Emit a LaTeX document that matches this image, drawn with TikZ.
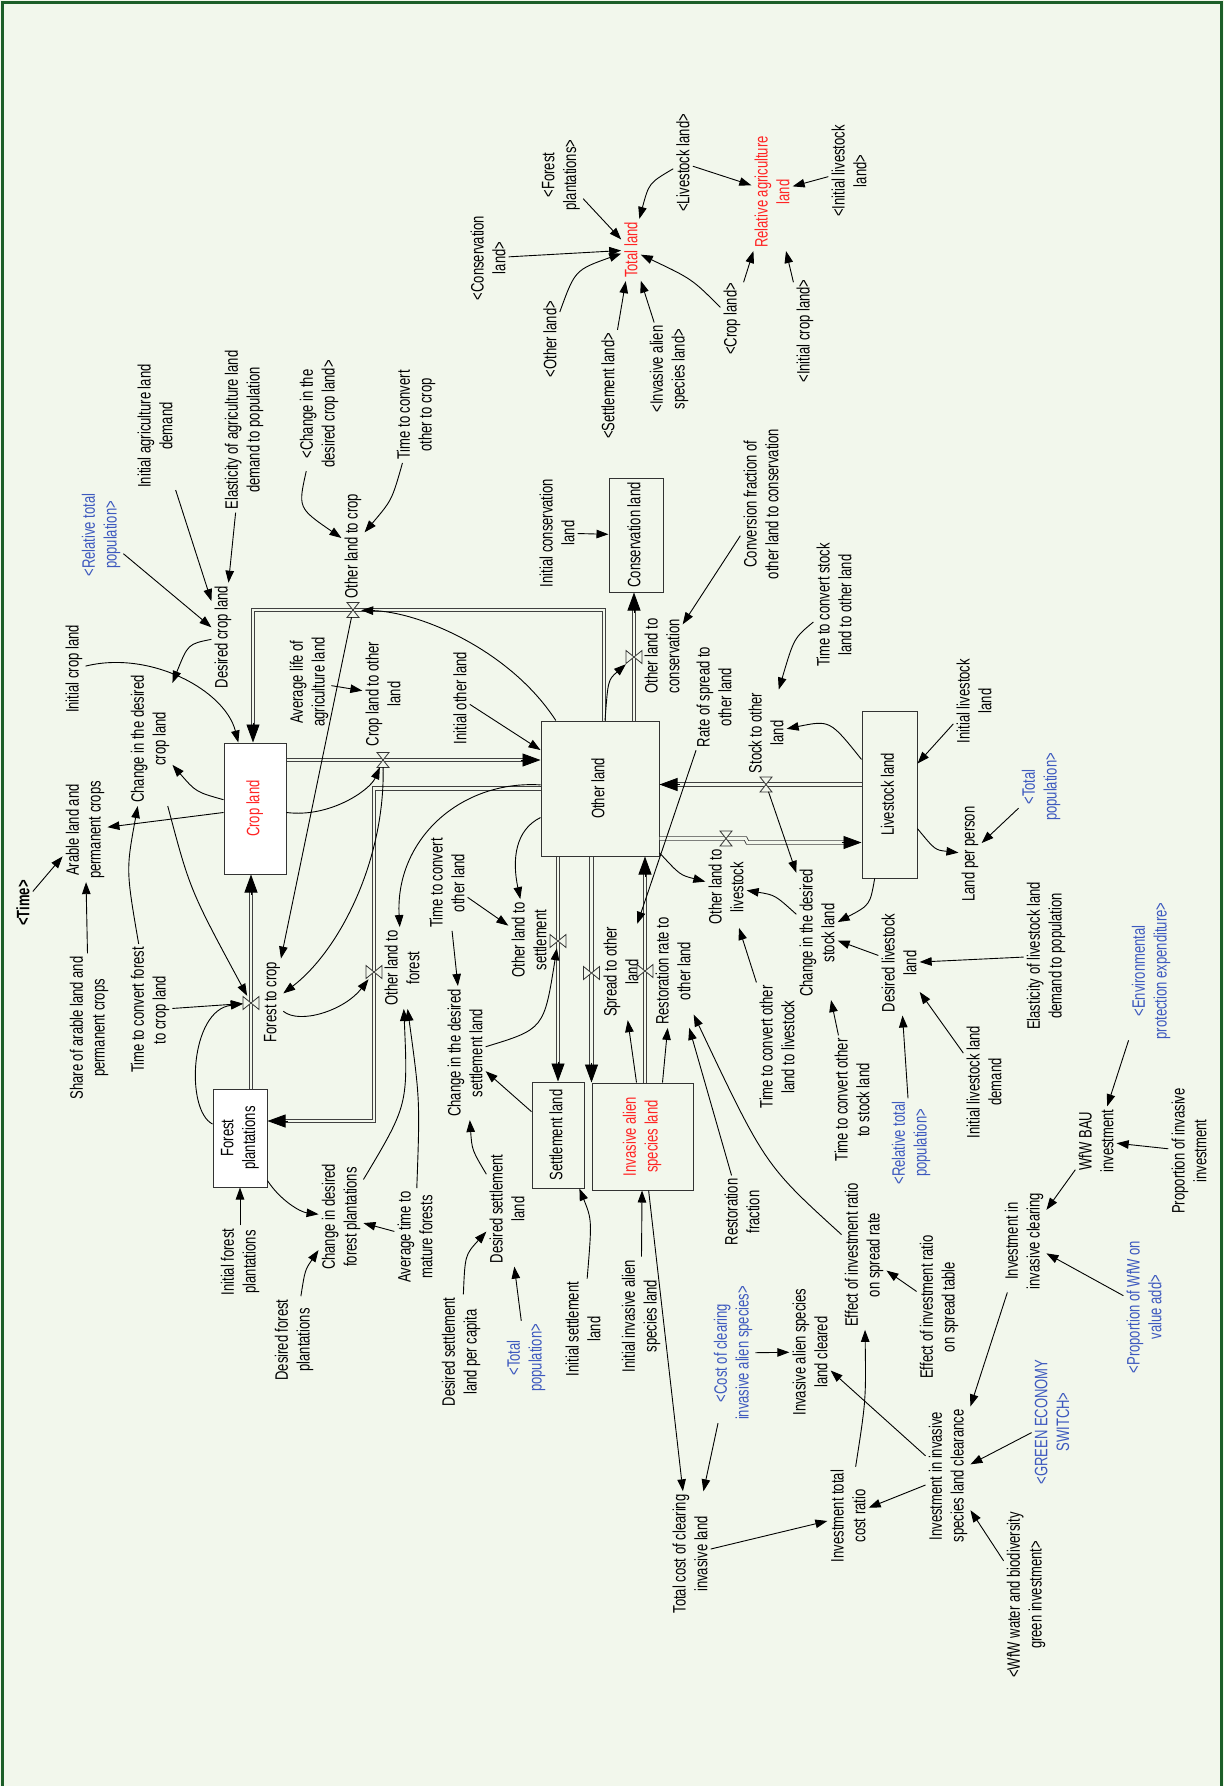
\documentclass[tikz,border=0pt]{standalone}
\usepackage{fontspec}
\setmainfont[FakeStretch=0.725]{Liberation Sans}
\usepackage{graphicx}
\usetikzlibrary{arrows.meta,calc}
\definecolor{bg}{RGB}{242,247,236}
\definecolor{framegreen}{RGB}{28,94,40}
\definecolor{rd}{RGB}{255,35,35}
\definecolor{bl}{RGB}{60,88,190}
\newcommand\lblfont{\fontsize{18}{21.7}\selectfont}
\newcommand\boxtxt[1]{\rotatebox{90}{\begin{tabular}{@{}c@{}}#1\end{tabular}}}
\newcommand\drawvvalve[1]{\filldraw[vline] ([shift={(-8pt,6.5pt)}]#1.center) -- ([shift={(-8pt,-6.5pt)}]#1.center) -- ([shift={(8pt,6.5pt)}]#1.center) -- ([shift={(8pt,-6.5pt)}]#1.center) -- cycle;}
\newcommand\drawhvalve[1]{\filldraw[vline] ([shift={(-6pt,7.5pt)}]#1.center) -- ([shift={(6pt,7.5pt)}]#1.center) -- ([shift={(-6pt,-7.5pt)}]#1.center) -- ([shift={(6pt,-7.5pt)}]#1.center) -- cycle;}
\tikzset{
  lbl/.style={rotate=90, align=center, inner sep=3pt, font=\lblfont},
  stock/.style={draw=black!80, line width=1pt, inner sep=0pt, font=\lblfont},
  info/.style={draw=black, line width=0.9pt, -{Triangle[length=12pt,width=8.5pt]}},
  pipe/.style={draw=black!75, double=bg, double distance=2.6pt, line width=0.9pt},
  ptip/.style={draw=black, line width=0.8pt, -{Triangle[length=18pt,width=13pt]}},
  vnode/.style={inner sep=0pt, minimum width=16pt, minimum height=14pt},
  vline/.style={draw=black!80, fill=bg, line width=0.8pt}
}
\begin{document}
\begin{tikzpicture}[x=1pt,y=-1pt]
\useasboundingbox (0,0) rectangle (1224,1786);
\fill[bg] (0,0) rectangle (1224,1786);
\draw[framegreen, line width=2.5pt] (2.5,2.5) rectangle (1221.5,1792);

% ---------- stocks ----------
\node[stock, fill=white, text=rd, minimum width=62pt, minimum height=131pt] (crop) at (255,808.5) {\boxtxt{Crop land}};
\node[stock, fill=white, minimum width=54pt, minimum height=98pt] (forest) at (240,1138) {\boxtxt{Forest\\plantations}};
\node[stock, fill=bg, minimum width=118pt, minimum height=135pt] (other) at (600,788.5) {\boxtxt{Other land}};
\node[stock, fill=bg, minimum width=54pt, minimum height=114pt] (cons) at (636,535) {\boxtxt{Conservation land}};
\node[stock, fill=bg, minimum width=52pt, minimum height=106pt] (settle) at (558,1135) {\boxtxt{Settlement land}};
\node[stock, fill=bg, text=rd, minimum width=101pt, minimum height=107pt] (inv) at (642.5,1136.5) {\boxtxt{Invasive alien\\species land}};
\node[stock, fill=bg, minimum width=55pt, minimum height=167pt] (live) at (889.5,794.5) {\boxtxt{Livestock land}};

% ---------- valves (nodes) ----------
\node[vnode] (v_olc) at (353,610) {};
\node[vnode] (v_clol) at (383,760) {};
\node[vnode] (v_olf) at (374,972) {};
\node[vnode] (v_fc) at (251,1003) {};
\node[vnode] (v_olcons) at (634,657) {};
\node[vnode] (v_olset) at (558,941) {};
\node[vnode] (v_sol) at (591.5,973) {};
\node[vnode] (v_rrol) at (645,971) {};
\node[vnode] (v_stol) at (766,784.5) {};
\node[vnode] (v_olliv) at (726,838.5) {};

% ---------- top cluster ----------
\node[lbl, text=rd] (tl) at (631,250) {Total land};
\node[lbl, text=rd] (ral) at (772,192) {Relative agriculture\\land};
\node[lbl] (sCons) at (488,258) {<Conservation\\land>};
\node[lbl] (sForest) at (561,175) {<Forest\\plantations>};
\node[lbl] (sLive) at (683,163) {<Livestock land>};
\node[lbl] (sOther) at (550,339) {<Other land>};
\node[lbl] (sSettle) at (608,386) {<Settlement land>};
\node[lbl] (sInv) at (669,369) {<Invasive alien\\species land>};
\node[lbl] (sCrop) at (732,319) {<Crop land>};
\node[lbl] (sInitCrop) at (805,331) {<Initial crop land>};
\node[lbl] (sInitLive) at (849,171) {<Initial livestock\\land>};

% ---------- crop area ----------
\node[lbl] (iald) at (155,426) {Initial agriculture land\\demand};
\node[lbl] (eald) at (244,430) {Elasticity of agriculture land\\demand to population};
\node[lbl] (cdclS) at (319,414) {<Change in the\\desired crop land>};
\node[lbl] (tcoc) at (416,415) {Time to convert\\other to crop};
\node[lbl, text=bl] (rtp1) at (101,535) {<Relative total\\population>};
\node[lbl] (dcl) at (223,637) {Desired crop land};
\node[lbl] (icl) at (74,669) {Initial crop land};
\node[lbl] (cdcl) at (150,739) {Change in the desired\\crop land};
\node[lbl] (arable) at (85,830) {Arable land and\\permanent crops};
\node[lbl, font=\lblfont\bfseries] (time) at (23,903) {<Time>};
\node[lbl] (alal) at (309,682) {Average life of\\agriculture land};
\node[lbl] (clol) at (383,694) {Crop land to other\\land};
\node[lbl] (olc) at (353,546) {Other land to crop};

% ---------- middle ----------
\node[lbl] (icons) at (557,533) {Initial conservation\\land};
\node[lbl] (cfoc) at (761,504) {Conversion fraction of\\other land to conservation};
\node[lbl] (olcons) at (662,656) {Other land to\\conservation};
\node[lbl] (iol) at (460,698) {Initial other land};
\node[lbl] (rsol) at (714,697) {Rate of spread to\\other land};
\node[lbl] (stol) at (766,733) {Stock to other\\land};
\node[lbl] (tcsol) at (834,605) {Time to convert stock\\land to other land};
\node[lbl] (ill) at (974,701) {Initial livestock\\land};
\node[lbl, text=bl] (tp1) at (1041,787) {<Total\\population>};
\node[lbl] (lpp) at (970,854) {Land per person};

% ---------- livestock / investment ----------
\node[lbl] (cdsl) at (817,933) {Change in the desired\\stock land};
\node[lbl] (dll) at (899,963) {Desired livestock\\land};
\node[lbl] (elld) at (1046,956) {Elasticity of livestock land\\demand to population};
\node[lbl] (illd) at (984,1082) {Initial livestock land\\demand};
\node[lbl, text=bl] (rtp2) at (911,1143) {<Relative total\\population>};
\node[lbl] (tcosl) at (852,1100) {Time to convert other\\to stock land};
\node[lbl, text=bl] (epe) at (1151,971) {<Environmental\\protection expenditure>};
\node[lbl] (wfwbau) at (1096,1141) {WfW BAU\\investment};
\node[lbl] (pii) at (1189,1151) {Proportion of invasive\\investment};
\node[lbl] (iic) at (1024,1241) {Investment in\\invasive clearing};
\node[lbl, text=bl] (pwfw) at (1144,1307) {<Proportion of WfW on\\value add>};
\node[lbl] (eir) at (864,1255) {Effect of investment ratio\\on spread rate};
\node[lbl] (eirt) at (939,1307) {Effect of investment ratio\\on spread table};
\node[lbl] (iisl) at (948,1476) {Investment in invasive\\species land clearance};
\node[lbl, text=bl] (ges) at (1052,1422) {<GREEN ECONOMY\\SWITCH>};
\node[lbl] (wfwgi) at (1026,1595) {<WfW water and biodiversity\\green investment>};
\node[lbl] (itcr) at (848,1516) {Investment total\\cost ratio};
\node[lbl] (iaslc) at (810,1352) {Invasive alien species\\land cleared};
\node[lbl] (tcci) at (690,1554) {Total cost of clearing\\invasive land};
\node[lbl, text=bl] (ccias) at (733,1353) {<Cost of clearing\\invasive alien species>};
\node[lbl] (iias) at (641,1316) {Initial invasive alien\\species land};
\node[lbl] (isl) at (583,1329) {Initial settlement\\land};
\node[lbl, text=bl] (tp2) at (526,1358) {<Total\\population>};
\node[lbl] (dslpc) at (461,1352) {Desired settlement\\land per capita};
\node[lbl] (dsl) at (507,1209) {Desired settlement\\land};
\node[lbl] (cdsetl) at (465,1053) {Change in the desired\\settlement land};
\node[lbl] (olset) at (529,940) {Other land to\\settlement};
\node[lbl] (sol) at (621,972) {Spread to other\\land};
\node[lbl] (rrol) at (673,971) {Restoration rate to\\other land};
\node[lbl] (rf) at (742,1212) {Restoration\\fraction};
\node[lbl] (tcoll) at (777,1047) {Time to convert other\\land to livestock};
\node[lbl] (olliv) at (726,887) {Other land to\\livestock};
\node[lbl] (tcol) at (447,883) {Time to convert\\other land};

% ---------- forest area ----------
\node[lbl] (sal) at (89,1028) {Share of arable land and\\permanent crops};
\node[lbl] (tcfc) at (150,1010) {Time to convert forest\\to crop land};
\node[lbl] (fc) at (272,1002) {Forest to crop};
\node[lbl] (ifp) at (240,1262) {Initial forest\\plantations};
\node[lbl] (cdfp) at (341,1217) {Change in desired\\forest plantations};
\node[lbl] (dfp) at (294,1340) {Desired forest\\plantations};
\node[lbl] (atmf) at (415,1237) {Average time to\\mature forests};
\node[lbl] (olf) at (402,968) {Other land to\\forest};

% ---------- pipe end points ----------
\coordinate (p1s) at ([xshift=4pt]other.north);
\coordinate (p1e) at ([xshift=-2pt]crop.north);
\coordinate (p2s) at (crop.east |- v_clol.center);
\coordinate (p2e) at (other.west |- v_clol.center);
\coordinate (p3e) at ([yshift=17pt]forest.east);
\coordinate (p4s) at ([xshift=11pt]forest.north);
\coordinate (p4e) at ([xshift=-4pt]crop.south);
\coordinate (p5s) at ([xshift=34pt]other.north);
\coordinate (p5e) at ([xshift=-2pt]cons.south);
\coordinate (p6s) at ([xshift=-42pt]other.south);
\coordinate (p7s) at ([xshift=-8.5pt]other.south);
\coordinate (p7e) at ([xshift=-51pt]inv.north);
\coordinate (p8s) at ([xshift=2.5pt]inv.north);
\coordinate (p8e) at ([xshift=45pt]other.south);
\coordinate (p9s) at ([yshift=10pt]live.west);
\coordinate (p9e) at ([yshift=4pt]other.east);
\coordinate (p10s) at ([yshift=-50pt]other.east);
\coordinate (p10e) at ([yshift=-48pt]live.west);

% ---------- pipes ----------
\draw[pipe, shorten >=14pt] (p1s) |- (v_olc.center) -| (p1e);
\draw[ptip] ($(p1e)+(0,-20)$) -- (p1e);
\draw[pipe, shorten >=14pt] (p2s) -- (p2e);
\draw[ptip] ($(p2e)+(-20,0)$) -- (p2e);
\draw[pipe, shorten >=14pt] (other.west) -| (v_olf.center) |- (p3e);
\draw[ptip] ($(p3e)+(20,0)$) -- (p3e);
\draw[pipe, shorten >=14pt] (p4s) -- (p4e);
\draw[ptip] ($(p4e)+(0,20)$) -- (p4e);
\draw[pipe, shorten >=14pt] (p5s) -- (p5e);
\draw[ptip] ($(p5e)+(0,20)$) -- (p5e);
\draw[pipe, shorten >=14pt] (p6s) -- (settle.north);
\draw[ptip] ($(settle.north)+(0,-20)$) -- (settle.north);
\draw[pipe, shorten >=14pt] (p7s) -- (p7e);
\draw[ptip] ($(p7e)+(0,-20)$) -- (p7e);
\draw[pipe, shorten >=14pt] (p8s) -- (p8e);
\draw[ptip] ($(p8e)+(0,20)$) -- (p8e);
\draw[pipe, shorten >=14pt] (p9s) -- (p9e);
\draw[ptip] ($(p9e)+(20,0)$) -- (p9e);
\draw[pipe, shorten >=14pt] (p10s) -- ++(86,0) -- ++(2,4) -- (p10e);
\draw[ptip] ($(p10e)+(-20,0)$) -- (p10e);

% ---------- valve shapes ----------
\drawhvalve{v_olc}
\drawhvalve{v_clol}
\drawvvalve{v_olf}
\drawvvalve{v_fc}
\drawvvalve{v_olcons}
\drawvvalve{v_olset}
\drawvvalve{v_sol}
\drawvvalve{v_rrol}
\drawhvalve{v_stol}
\drawhvalve{v_olliv}

% ---------- information links ----------
\draw[info] (sCons) -- (tl);
\draw[info] (sForest) -- (tl);
\draw[info] (sLive) .. controls (649,183) .. (tl);
\draw[info] (sLive) -- (ral);
\draw[info] (sInitLive) -- (ral);
\draw[info] (sOther) .. controls (575,270) .. (tl);
\draw[info] (sSettle) -- (tl);
\draw[info] (sInv) -- (tl);
\draw[info] (sCrop) .. controls (692,279) .. (tl);
\draw[info] (sCrop) -- (ral);
\draw[info] (sInitCrop) -- (ral);

\draw[info] (rtp1) -- (dcl);
\draw[info] (iald) -- (dcl);
\draw[info] (eald) -- (dcl);
\draw[info] (cdclS) .. controls (298,508) .. (olc);
\draw[info] (tcoc) .. controls (392,500) .. (olc);
\draw[info] (dcl) .. controls (188,644) .. (cdcl);
\draw[info] (icl) .. controls (150,650) and (225,690) .. (crop);
\draw[info] (crop) .. controls (196,792) .. (cdcl);
\draw[info] (crop) -- (arable);
\draw[info] (time) -- (arable);
\draw[info] (sal) -- (arable);
\draw[info] (tcfc) .. controls (126,870) .. (cdcl);
\draw[info] (cdcl) .. controls (190,890) .. (v_fc);
\draw[info] (tcfc) -- (v_fc);
\draw[info] (forest) .. controls (185,1110) and (190,1010) .. (v_fc);
\draw[info] (v_olc) -- (fc);
\draw[info] (v_clol) .. controls (385,860) and (340,950) .. (fc);
\draw[info] (crop) .. controls (330,818) and (370,790) .. (v_clol);
\draw[info] (alal) -- (clol);
\draw[info] (other) .. controls (510,650) and (420,612) .. (v_olc);
\draw[info] (other) .. controls (460,780) and (395,840) .. (olf);
\draw[info] (fc) .. controls (300,1025) and (345,1010) .. (v_olf);
\draw[info] (forest) .. controls (280,1200) and (300,1212) .. (cdfp);
\draw[info] (ifp) -- (forest);
\draw[info] (dfp) .. controls (305,1270) .. (cdfp);
\draw[info] (atmf) -- (cdfp);
\draw[info] (atmf) .. controls (420,1100) .. (olf);
\draw[info] (cdfp) .. controls (408,1105) .. (olf);

\draw[info] (other) .. controls (515,830) and (512,860) .. (olset);
\draw[info] (tcol) -- (olset);
\draw[info] (tcol) -- (cdsetl);
\draw[info] (cdsetl) .. controls (544,1029) .. (v_olset);
\draw[info] (settle) -- (cdsetl);
\draw[info] (dsl) .. controls (472,1150) .. (cdsetl);
\draw[info] (dslpc) .. controls (465,1255) .. (dsl);
\draw[info] (tp2) -- (dsl);
\draw[info] (isl) .. controls (592,1220) .. (settle);
\draw[info] (iias) -- (inv);
\draw[info] (inv) -- (tcci);
\draw[info] (ccias) -- (tcci);
\draw[info] (ccias) -- (iaslc);
\draw[info] (tcci) -- (itcr);
\draw[info] (iisl) -- (itcr);
\draw[info] (iisl) -- (iaslc);
\draw[info] (itcr) .. controls (866,1400) .. (eir);
\draw[info] (eirt) -- (eir);
\draw[info] (eir) .. controls (765,1165) .. (rrol);
\draw[info] (rf) -- (rrol);
\draw[info] ([xshift=-6pt]inv.north) -- (sol);
\draw[info] ([xshift=20pt]inv.north) -- (rrol);
\draw[info] (rsol) -- (sol);

\draw[info] (iic) -- (iisl);
\draw[info] (ges) -- (iisl);
\draw[info] (wfwgi) -- (iisl);
\draw[info] (wfwbau) -- (iic);
\draw[info] (pwfw) -- (iic);
\draw[info] (epe) -- (wfwbau);
\draw[info] (pii) -- (wfwbau);
\draw[info] (elld) -- (dll);
\draw[info] (illd) -- (dll);
\draw[info] (rtp2) -- (dll);
\draw[info] (dll) -- (cdsl);
\draw[info] (tcosl) -- (cdsl);
\draw[info] (live) .. controls (870,905) .. (cdsl);
\draw[info] (cdsl) .. controls (775,895) .. (olliv);
\draw[info] (tcoll) -- (olliv);
\draw[info] (other) .. controls (680,875) .. (olliv);
\draw[info] (v_stol) -- (cdsl);
\draw[info] (live) .. controls (830,720) .. (stol);
\draw[info] (tcsol) .. controls (794,638) .. (stol);
\draw[info] (ill) -- (live);
\draw[info] (tp1) -- (lpp);
\draw[info] (live) .. controls (935,850) .. (lpp);
\draw[info] (icons) -- (cons);
\draw[info] (cfoc) -- (olcons);
\draw[info] (other) .. controls (608,680) .. (v_olcons);
\draw[info] (iol) -- (other);
\end{tikzpicture}
\end{document}
